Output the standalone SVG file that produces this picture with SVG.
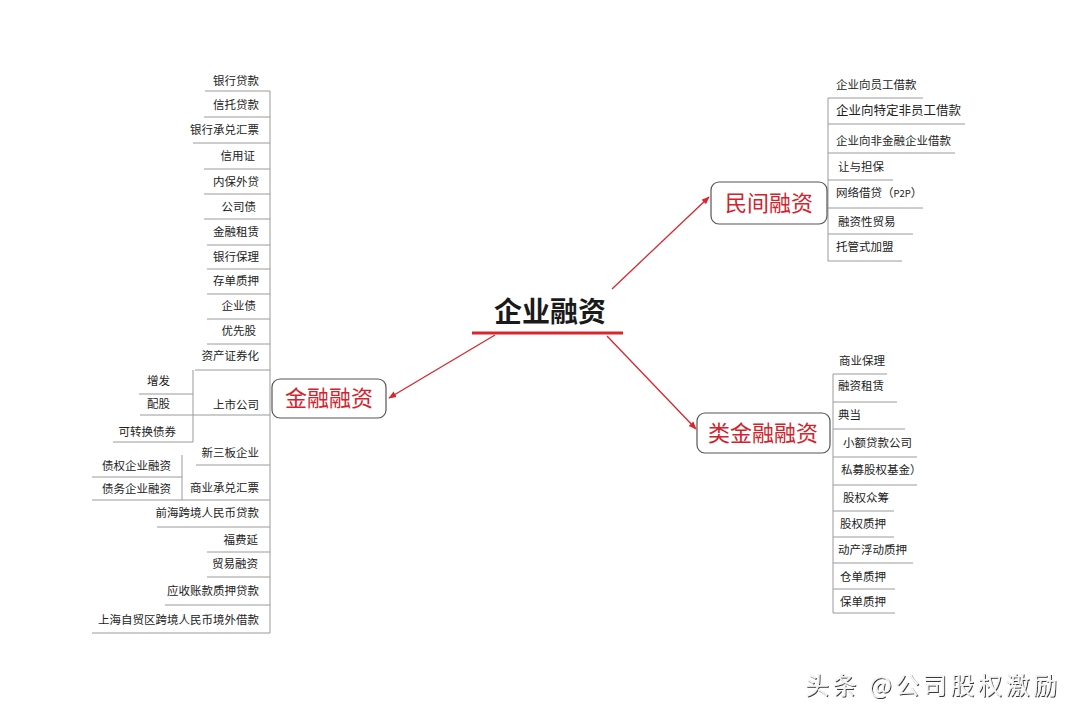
<svg xmlns="http://www.w3.org/2000/svg" width="1080" height="720" viewBox="0 0 1080 720">
<style>
.t{font-family:"Noto Sans CJK SC","Liberation Sans",sans-serif;font-size:11.5px;fill:#222}
.e{text-anchor:end}
.ln{stroke:#9a9a9a;stroke-width:1;fill:none}
.box{fill:#fff;stroke:#555;stroke-width:1.2}
.bt{font-family:"Noto Sans CJK SC","Liberation Serif",serif;font-size:22px;fill:#d3222b;text-anchor:middle}
.ar{stroke:#d9262c;stroke-width:1.3;fill:none;marker-end:url(#ah)}
</style>
<defs>
<marker id="ah" viewBox="0 0 10 10" refX="9" refY="5" markerWidth="8" markerHeight="8" orient="auto" markerUnits="userSpaceOnUse">
<path d="M0,1 L10,5 L0,9 z" fill="#d9262c"/>
</marker>
<filter id="sh" x="-5%" y="-20%" width="110%" height="140%">
<feDropShadow dx="1" dy="1" stdDeviation="0.6" flood-color="#222" flood-opacity="0.9"/>
</filter>
</defs>
<rect width="1080" height="720" fill="#fff"/>

<g id="connectors">
<line class="ar" x1="495" y1="335" x2="389" y2="398"/>
<line class="ar" x1="607" y1="336" x2="696" y2="429"/>
<line class="ar" x1="612" y1="289" x2="709" y2="197"/>
<line class="ln" x1="270" y1="91" x2="270" y2="633"/>
<line class="ln" x1="193" y1="370" x2="193" y2="442"/>
<line class="ln" x1="182" y1="455" x2="182" y2="500"/>
<line class="ln" x1="828" y1="98" x2="828" y2="261"/>
<line class="ln" x1="833" y1="374" x2="833" y2="613"/>
</g>

<g id="root">
<text x="550" y="322" font-family="Noto Sans CJK SC,sans-serif" font-size="28" font-weight="bold" fill="#1a1a1a" text-anchor="middle">企业融资</text>
<line x1="472" y1="333" x2="623" y2="333" stroke="#d9262c" stroke-width="3"/>
</g>

<g id="n-jinrong">
<rect class="box" x="272" y="379" width="114" height="39" rx="8"/>
<text class="bt" x="329" y="406">金融融资</text>
</g>
<g id="n-minjian">
<rect class="box" x="711" y="182" width="116" height="42" rx="8"/>
<text class="bt" x="769" y="211">民间融资</text>
</g>
<g id="n-leijinrong">
<rect class="box" x="697" y="413" width="133" height="40" rx="8"/>
<text class="bt" x="763" y="441">类金融融资</text>
</g>

<g id="left-items">
<g id="l1"><text class="t e" x="259" y="85">银行贷款</text><line class="ln" x1="205" y1="91" x2="270" y2="91"/></g>
<g id="l2"><text class="t e" x="259" y="109">信托贷款</text><line class="ln" x1="204" y1="117" x2="270" y2="117"/></g>
<g id="l3"><text class="t e" x="259" y="134">银行承兑汇票</text><line class="ln" x1="193" y1="143" x2="270" y2="143"/></g>
<g id="l4"><text class="t e" x="255" y="160">信用证</text><line class="ln" x1="204" y1="169" x2="270" y2="169"/></g>
<g id="l5"><text class="t e" x="259" y="186">内保外贷</text><line class="ln" x1="204" y1="194" x2="270" y2="194"/></g>
<g id="l6"><text class="t e" x="256" y="211">公司债</text><line class="ln" x1="204" y1="219" x2="270" y2="219"/></g>
<g id="l7"><text class="t e" x="259" y="236">金融租赁</text><line class="ln" x1="207" y1="245" x2="270" y2="245"/></g>
<g id="l8"><text class="t e" x="259" y="261">银行保理</text><line class="ln" x1="207" y1="269" x2="270" y2="269"/></g>
<g id="l9"><text class="t e" x="259" y="285">存单质押</text><line class="ln" x1="207" y1="294" x2="270" y2="294"/></g>
<g id="l10"><text class="t e" x="256" y="310">企业债</text><line class="ln" x1="207" y1="319" x2="270" y2="319"/></g>
<g id="l11"><text class="t e" x="256" y="335">优先股</text><line class="ln" x1="207" y1="344" x2="270" y2="344"/></g>
<g id="l12"><text class="t e" x="259" y="360">资产证券化</text><line class="ln" x1="195" y1="370" x2="270" y2="370"/></g>
<g id="l13"><text class="t e" x="259" y="409">上市公司</text><line class="ln" x1="140" y1="415" x2="270" y2="415"/></g>
<g id="l13a"><text class="t e" x="170" y="385">增发</text><line class="ln" x1="139" y1="394" x2="193" y2="394"/></g>
<g id="l13b"><text class="t e" x="170" y="408">配股</text></g>
<g id="l13c"><text class="t e" x="176" y="436">可转换债券</text><line class="ln" x1="113" y1="442" x2="193" y2="442"/></g>
<g id="l14"><text class="t e" x="259" y="457">新三板企业</text><line class="ln" x1="196" y1="465" x2="270" y2="465"/></g>
<g id="l14a"><text class="t e" x="171" y="470">债权企业融资</text><line class="ln" x1="92" y1="477" x2="182" y2="477"/></g>
<g id="l14b"><text class="t e" x="171" y="493">债务企业融资</text></g>
<g id="l15"><text class="t e" x="259" y="492">商业承兑汇票</text><line class="ln" x1="92" y1="500" x2="270" y2="500"/></g>
<g id="l16"><text class="t e" x="259" y="517">前海跨境人民币贷款</text><line class="ln" x1="157" y1="527" x2="270" y2="527"/></g>
<g id="l17"><text class="t e" x="258" y="544">福费延</text><line class="ln" x1="207" y1="552" x2="270" y2="552"/></g>
<g id="l18"><text class="t e" x="258" y="568">贸易融资</text><line class="ln" x1="207" y1="577" x2="270" y2="577"/></g>
<g id="l19"><text class="t e" x="259" y="595">应收账款质押贷款</text><line class="ln" x1="165" y1="605" x2="270" y2="605"/></g>
<g id="l20"><text class="t e" x="259" y="624">上海自贸区跨境人民币境外借款</text><line class="ln" x1="92" y1="633" x2="270" y2="633"/></g>
</g>

<g id="right-top-items">
<g id="m1"><text class="t" x="836" y="89">企业向员工借款</text><line class="ln" x1="828" y1="98" x2="923" y2="98"/></g>
<g id="m2"><text class="t" x="836" y="115" style="font-size:12.5px">企业向特定非员工借款</text><line class="ln" x1="828" y1="124" x2="965" y2="124"/></g>
<g id="m3"><text class="t" x="836" y="145">企业向非金融企业借款</text><line class="ln" x1="828" y1="153" x2="955" y2="153"/></g>
<g id="m4"><text class="t" x="838" y="171">让与担保</text><line class="ln" x1="828" y1="180" x2="893" y2="180"/></g>
<g id="m5"><text class="t" x="836" y="197">网络借贷（<tspan style="font-size:9.5px">P2P</tspan>）</text><line class="ln" x1="828" y1="208" x2="923" y2="208"/></g>
<g id="m6"><text class="t" x="838" y="226">融资性贸易</text><line class="ln" x1="828" y1="234" x2="913" y2="234"/></g>
<g id="m7"><text class="t" x="836" y="251">托管式加盟</text><line class="ln" x1="828" y1="261" x2="902" y2="261"/></g>
</g>

<g id="right-bottom-items">
<g id="r1"><text class="t" x="839" y="365">商业保理</text><line class="ln" x1="833" y1="374" x2="887" y2="374"/></g>
<g id="r2"><text class="t" x="838" y="390">融资租赁</text><line class="ln" x1="833" y1="402" x2="897" y2="402"/></g>
<g id="r3"><text class="t" x="838" y="419">典当</text><line class="ln" x1="833" y1="429" x2="905" y2="429"/></g>
<g id="r4"><text class="t" x="843" y="447">小额贷款公司</text><line class="ln" x1="833" y1="457" x2="917" y2="457"/></g>
<g id="r5"><text class="t" x="841" y="474">私募股权基金）</text><line class="ln" x1="833" y1="485" x2="917" y2="485"/></g>
<g id="r6"><text class="t" x="843" y="502">股权众筹</text><line class="ln" x1="833" y1="511" x2="894" y2="511"/></g>
<g id="r7"><text class="t" x="840" y="528">股权质押</text><line class="ln" x1="833" y1="537" x2="894" y2="537"/></g>
<g id="r8"><text class="t" x="838" y="554">动产浮动质押</text><line class="ln" x1="833" y1="563" x2="913" y2="563"/></g>
<g id="r9"><text class="t" x="840" y="581">仓单质押</text><line class="ln" x1="833" y1="589" x2="895" y2="589"/></g>
<g id="r10"><text class="t" x="840" y="606">保单质押</text><line class="ln" x1="833" y1="613" x2="895" y2="613"/></g>
</g>

<g id="watermark">
<text x="805" y="694" font-family="Noto Sans CJK SC,sans-serif" font-size="24" fill="#f4f4f4" filter="url(#sh)" textLength="252" lengthAdjust="spacing">头条 @公司股权激励</text>
</g>
</svg>
